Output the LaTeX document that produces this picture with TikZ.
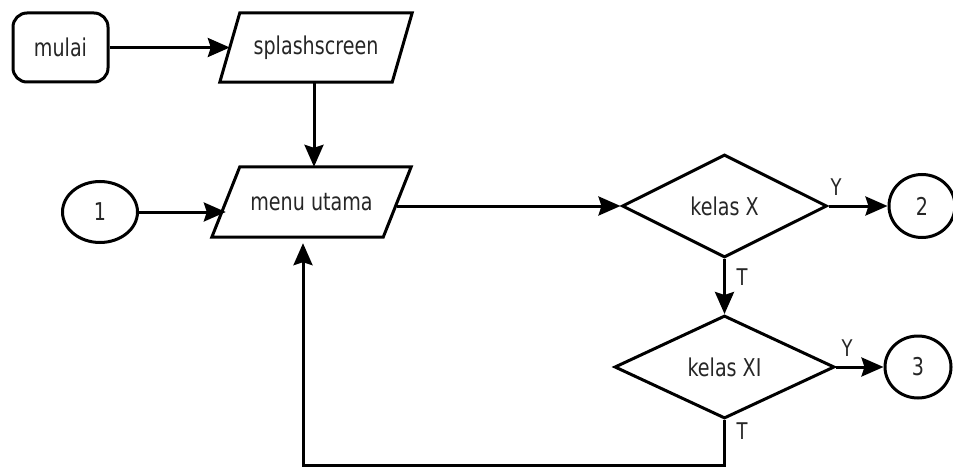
\documentclass[tikz,border=0pt]{standalone}
\usepackage{fontspec}
\newfontfamily\flowfont[FakeStretch=0.78]{DejaVu Sans}
\usetikzlibrary{shapes.geometric,arrows.meta,calc}

\begin{document}
\begin{tikzpicture}[x=1pt,y=-1pt,
  every node/.style={font=\flowfont\fontsize{24.5}{28}\selectfont, text=black!85},
  terminal/.style={draw, line width=3pt, rectangle, rounded corners=14pt,
    minimum width=95pt, minimum height=69pt, inner sep=0pt},
  io/.style={rectangle, inner sep=0pt},
  iobox/.style={draw, line width=3pt, line join=miter},
  decision/.style={draw, line width=3pt, diamond, inner sep=0pt},
  connector/.style={draw, line width=3pt, ellipse, inner sep=0pt},
  flow/.style={draw, line width=3pt, -{Stealth[length=22pt,width=19pt,inset=3pt]}},
  branch/.style={font=\flowfont\fontsize{23}{26}\selectfont}]

  % canvas
  \fill[white] (0,0) rectangle (953,468);
  \useasboundingbox (0,0) rectangle (953,468);

  % shapes
  \node[terminal] (mulai) at (60.5,47.5) {mulai};
  \node[io, minimum width=172pt, minimum height=69pt] (splash) at (316,47.5) {splashscreen};
  \node[io, minimum width=171pt, minimum height=70pt] (menu) at (311.5,202) {menu utama};
  \node[connector, minimum width=75pt, minimum height=61pt] (c1) at (100,212) {1};
  \node[decision, minimum width=205pt, minimum height=103pt] (kx) at (724.5,206) {kelas X};
  \node[decision, minimum width=220pt, minimum height=103pt] (kxi) at (724.5,367) {kelas XI};
  \node[connector, minimum width=66pt, minimum height=63pt] (c2) at (922,206) {2};
  \node[connector, minimum width=66pt, minimum height=62pt] (c3) at (918,367) {3};

  % slanted input/output outlines around the two io nodes
  \draw[iobox] ([xshift=10pt]splash.north west) -- ([xshift=10pt]splash.north east)
    -- ([xshift=-10pt]splash.south east) -- ([xshift=-10pt]splash.south west) -- cycle;
  \draw[iobox] ([xshift=14pt]menu.north west) -- ([xshift=14pt]menu.north east)
    -- ([xshift=-14pt]menu.south east) -- ([xshift=-14pt]menu.south west) -- cycle;

  % connectors
  \path ([xshift=-2pt]splash.south) coordinate (sdown)
        ([xshift=-8.5pt]menu.south) coordinate (mup);
  \draw[flow] (mulai) -- (splash);
  \draw[flow] (sdown) -- (sdown |- menu.north);
  \draw[flow] (c1.east) -- (c1.east -| menu.west);
  \draw[flow] (kx.west -| menu.east) -- (kx.west);
  \draw[flow] (kx.east) -- (c2.west);
  \draw[flow] (kx.south) -- (kxi.north);
  \draw[flow] (kxi.east) -- (c3.west);
  \draw[flow, shorten >=6pt] (kxi.south) -- ++(0,45) -| (mup);

  % branch labels
  \node[branch] (ly1) at (836,187) {Y};
  \node[branch] (lt1) at (742,277) {T};
  \node[branch] (ly2) at (847,348) {Y};
  \node[branch] (lt2) at (742,431) {T};
\end{tikzpicture}
\end{document}
